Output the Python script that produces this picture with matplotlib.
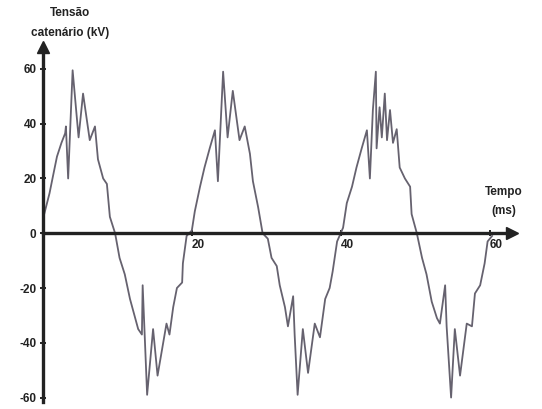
import matplotlib.pyplot as plt
import matplotlib

matplotlib.rc('font', family='Liberation Sans', weight='bold')

# waveform (time in ms, voltage in kV)
tempo = [0.0, 0.9, 1.3, 1.9, 2.5, 3.0, 3.1, 3.4, 4.0, 4.8, 5.4, 6.3, 7.0, 7.4, 8.1, 8.6, 9.0, 9.7,
         10.3, 11.0, 11.7, 12.3, 12.8, 13.3, 13.4, 14.0, 14.8, 15.4, 16.6, 17.0, 17.5, 18.0, 18.7, 18.8, 19.3,
         20.0, 20.4, 21.1, 21.7, 22.4, 23.1, 23.5, 24.2, 24.8, 25.5, 26.4, 27.1, 27.8, 28.2, 28.9, 29.5,
         30.2, 30.7, 31.4, 31.8, 32.5, 32.9, 33.6, 33.8, 34.2, 34.9, 35.6, 36.5, 37.2, 37.9, 38.5, 38.9, 39.5,
         40.3, 40.8, 41.5, 42.1, 42.8, 43.5, 43.9, 44.3, 44.7, 44.8, 45.2, 45.5, 45.9, 46.2, 46.6, 47.0, 47.5,
         47.9, 48.6, 49.3, 49.5, 50.2,
         50.9, 51.5, 52.2, 52.9, 53.3, 54.0, 54.2, 54.8, 55.3, 56.0, 56.9, 57.6, 58.0, 58.7, 59.3, 59.7, 60.3]
tensao = [5, 14.6, 20, 28, 33, 36.5, 39, 20, 59.5, 35, 51, 34, 39, 27, 20, 18, 6, 0,
          -9, -15, -24, -30, -35, -37, -19, -59, -35, -52, -33, -37, -27, -20, -18, -11, -1,
          1, 8, 17, 24, 31, 37.6, 19, 59, 35, 52, 34, 39, 29, 19, 9.5, 0,
          -2, -9, -12, -19, -27, -34, -23, -37, -59, -35, -51, -33, -38, -24, -20, -14, -3,
          2, 11, 17, 24, 31, 37.6, 20, 45, 59, 31, 46, 35, 51, 34, 45, 33, 38,
          24, 20, 17, 7, 0,
          -9, -15, -25, -31, -33, -19, -34, -60, -35, -52, -33, -34, -22, -19, -11, -3, -1]
yticks = [-60, -40, -20, 0, 20, 40, 60]
xticks = [20, 40, 60]

fig = plt.figure(figsize=(5.42, 4.09), dpi=100)
ax = fig.add_axes([0.079, 0.018, 0.866, 0.867])
ax.plot(tempo, tensao, color='#66626f', linewidth=1.3)

ax.set_xlim(0, 63)
ax.set_ylim(-61.5, 68)
ax.spines['left'].set_position(('data', 0))
ax.spines['bottom'].set_position(('data', 0))
ax.spines['right'].set_visible(False)
ax.spines['top'].set_visible(False)
for s in ['left', 'bottom']:
    ax.spines[s].set_linewidth(2.4)
    ax.spines[s].set_color('#222222')

# arrow heads on the axes
ax.plot(1, 0, '>', color='#222222', markersize=8, transform=ax.get_yaxis_transform(), clip_on=False)
ax.plot(0, 1, '^', color='#222222', markersize=8, transform=ax.get_xaxis_transform(), clip_on=False)

ax.set_yticks(yticks)
ax.set_yticklabels([str(v) for v in yticks], fontsize=8.5, color='#222222')
ax.set_xticks(xticks)
ax.set_xticklabels([str(v) for v in xticks], fontsize=8.5, color='#222222')
ax.tick_params(axis='y', direction='inout', length=5, width=1.2, pad=2)
ax.tick_params(axis='x', direction='inout', length=5, width=1.2, pad=2)
for lbl in ax.get_xticklabels():
    lbl.set_horizontalalignment('left')

fig.text(0.13, 0.983, "Tensão\ncatenário (kV)", fontsize=8.5, color='#222222',
         ha='center', va='top', linespacing=1.9)
fig.text(0.93, 0.508, "Tempo\n(ms)", fontsize=8.5, color='#222222',
         ha='center', va='center', linespacing=1.8)

plt.savefig('out.png', dpi=100)
